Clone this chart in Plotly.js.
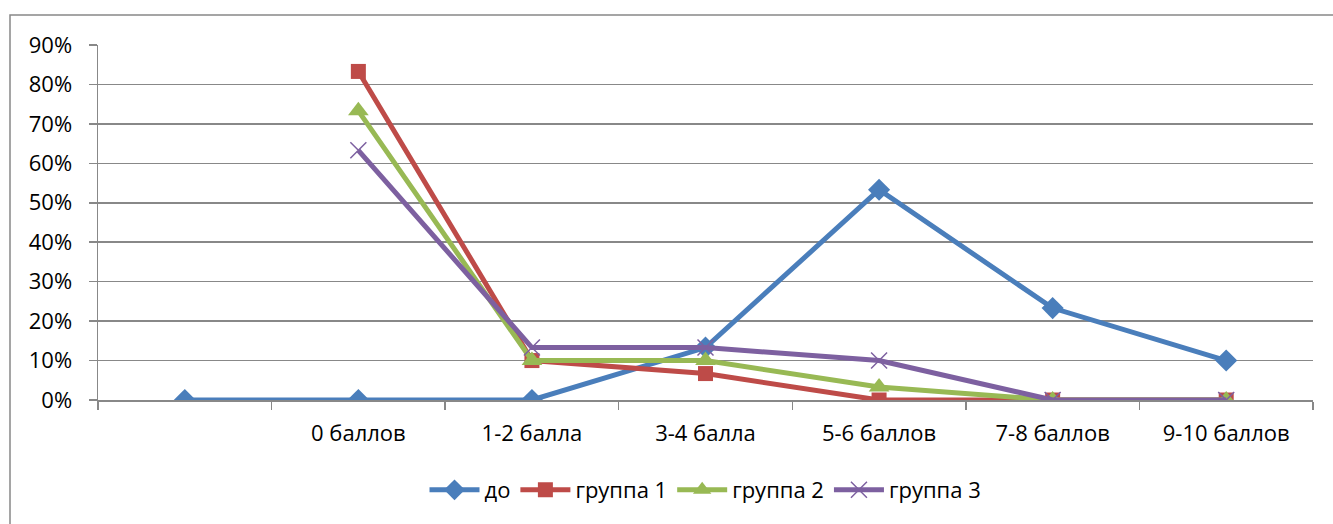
<!DOCTYPE html>
<html>
<head>
<meta charset="utf-8">
<script src="https://cdn.plot.ly/plotly-3.0.1.min.js"></script>
<style>html,body{margin:0;padding:0;background:#fff;}#chart{width:1333px;height:524px;}</style>
</head>
<body>
<div id="chart"></div>
<script>
const categories = ["\u00a0", "0 баллов", "1-2 балла", "3-4 балла", "5-6 баллов", "7-8 баллов", "9-10 баллов"];
const seriesNames = ["до", "группа 1", "группа 2", "группа 3"];
const doValues = [0, 0, 0, 0.133, 0.533, 0.233, 0.10];
const group1Values = [null, 0.833, 0.10, 0.067, 0, 0, 0];
const group2Values = [null, 0.733, 0.10, 0.10, 0.033, 0, 0];
const group3Values = [null, 0.633, 0.133, 0.133, 0.10, 0, 0];
const yTickVals = [0, 0.1, 0.2, 0.3, 0.4, 0.5, 0.6, 0.7, 0.8, 0.9];
const yTickText = ["0%", "10%", "20%", "30%", "40%", "50%", "60%", "70%", "80%", "90%"];

const colors = ["#4A7EBB", "#BE4B48", "#98B954", "#7D60A0"];
const symbols = ["diamond", "square", "triangle-up", "x-thin-open"];
const sizes = [17, 15, 18, 16];
const all = [doValues, group1Values, group2Values, group3Values];

const traces = all.map((vals, i) => ({
  type: "scatter",
  mode: "lines+markers",
  name: seriesNames[i],
  x: categories,
  y: vals,
  connectgaps: false,
  line: {color: colors[i], width: 5},
  marker: {symbol: symbols[i], size: sizes[i], color: colors[i],
           line: {color: colors[i], width: i === 3 ? 1.5 : 0}}
}));

const W = 1333, H = 524;
const m = {l: 98, r: 20, t: 45, b: 124};
const pw = W - m.l - m.r, ph = H - m.t - m.b;
const px2x = p => (p - m.l) / pw;
const py2y = p => (H - m.b - p) / ph;

const layout = {
  width: W, height: H,
  margin: m,
  paper_bgcolor: "#ffffff",
  plot_bgcolor: "#ffffff",
  font: {family: "Open Sans, Noto Sans, sans-serif", size: 22, color: "#000"},
  showlegend: true,
  legend: {orientation: "h", x: 0.5, xanchor: "center", y: py2y(490), yanchor: "middle",
           font: {size: 22}, traceorder: "normal", itemwidth: 50},
  xaxis: {
    type: "category",
    categoryorder: "array",
    categoryarray: categories,
    range: [-0.5, 6.5],
    showgrid: false,
    zeroline: false,
    showline: true,
    linecolor: "#888",
    linewidth: 1.5,
    ticks: "outside",
    tickson: "boundaries",
    ticklen: 8,
    tickcolor: "#888",
    tickwidth: 1.5,
    ticklabelstandoff: 13,
    tickfont: {size: 22},
    fixedrange: true
  },
  yaxis: {
    range: [0, 0.9],
    tickvals: yTickVals,
    ticktext: yTickText,
    showgrid: true,
    gridcolor: "#888",
    gridwidth: 1.5,
    zeroline: false,
    showline: true,
    linecolor: "#888",
    linewidth: 1.5,
    ticks: "outside",
    ticklen: 8,
    tickcolor: "#888",
    tickwidth: 1.5,
    ticklabelstandoff: 12,
    tickfont: {size: 22},
    fixedrange: true
  },
  shapes: [{
    type: "rect", xref: "paper", yref: "paper",
    x0: px2x(10), x1: px2x(1345), y0: py2y(540), y1: py2y(15),
    line: {color: "#888", width: 1.5}, fillcolor: "rgba(0,0,0,0)", layer: "below"
  }]
};

Plotly.newPlot("chart", traces, layout, {displayModeBar: false, staticPlot: true});
</script>
</body>
</html>
